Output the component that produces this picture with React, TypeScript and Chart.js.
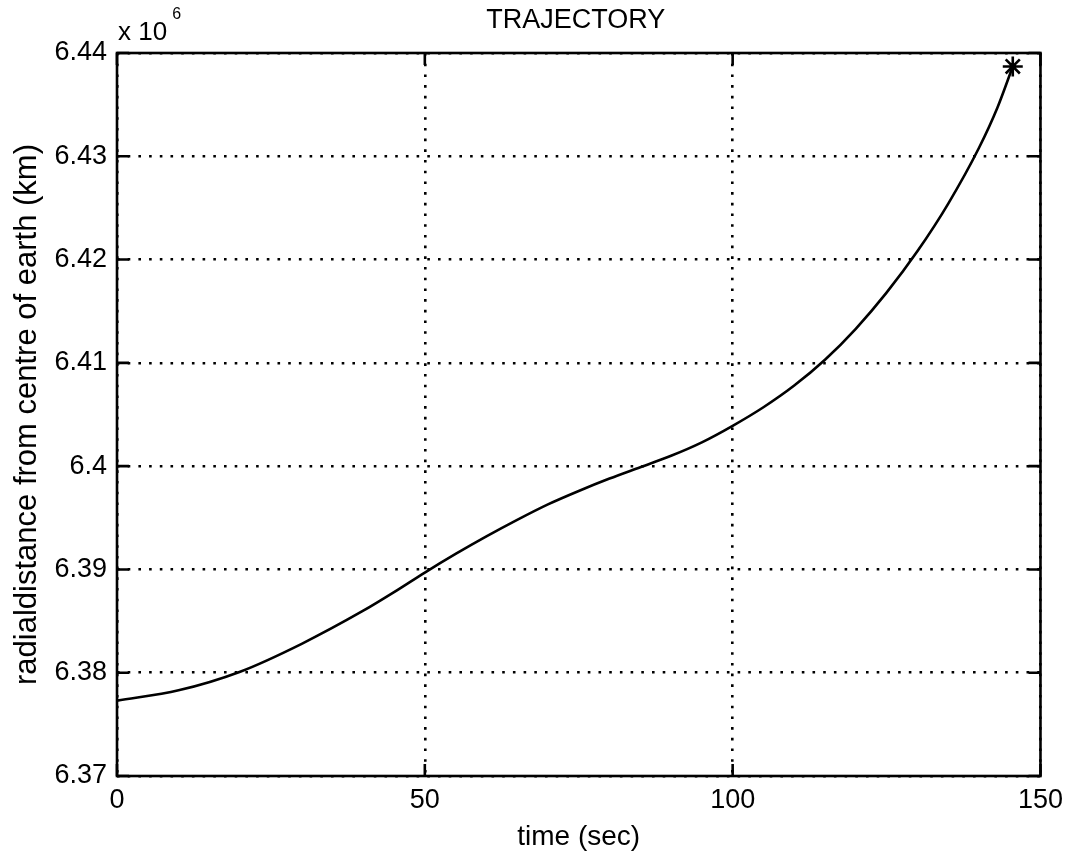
import React, { useEffect, useRef } from "react";
import { Chart, registerables } from "chart.js";

Chart.register(...registerables);

// time (sec)
const timeSec = [0, 10, 20, 30, 40, 45, 50, 55, 60, 65, 70, 75, 80, 85, 90, 95, 100, 105, 110, 115, 120, 125, 130, 135, 140, 143, 145.5];
// radial distance from centre of earth, in units of 10^6
const radialDistance = [6.3773, 6.3783, 6.3801, 6.3828, 6.386, 6.3878, 6.3897, 6.3915, 6.3932, 6.3948, 6.3963, 6.3976, 6.3988, 6.3999, 6.401, 6.4023, 6.4039, 6.4057, 6.4078, 6.4103, 6.4133, 6.4168, 6.4208, 6.4254, 6.4308, 6.4347, 6.4387];
// final point marker
const finalTime = [145.5];
const finalDistance = [6.4387];

const xTickValues = [0, 50, 100, 150];
const xTickLabels = ["0", "50", "100", "150"];
const yTickValues = [6.37, 6.38, 6.39, 6.4, 6.41, 6.42, 6.43, 6.44];
const yTickLabels = ["6.37", "6.38", "6.39", "6.4", "6.41", "6.42", "6.43", "6.44"];

const titleText = "TRAJECTORY";
const xLabel = "time (sec)";
const yLabel = "radialdistance from centre of earth (km)";
const exponentBase = "x 10";
const exponentPower = "6";

const FONT = '"Liberation Sans", Arial, Helvetica, sans-serif';

const matlabFrame = {
  id: "matlabFrame",
  afterDraw(chart: any) {
    const { ctx, chartArea, scales } = chart;
    const { left, right, top, bottom } = chartArea;
    const xs = scales.x;
    const ys = scales.y;
    ctx.save();
    ctx.strokeStyle = "#000";
    ctx.lineWidth = 2.6;
    ctx.strokeRect(left, top, right - left, bottom - top);
    const tl = 12;
    ctx.beginPath();
    xs.ticks.forEach((t: any) => {
      const px = xs.getPixelForValue(t.value);
      ctx.moveTo(px, bottom);
      ctx.lineTo(px, bottom - tl);
      ctx.moveTo(px, top);
      ctx.lineTo(px, top + tl);
    });
    ys.ticks.forEach((t: any) => {
      const py = ys.getPixelForValue(t.value);
      ctx.moveTo(left, py);
      ctx.lineTo(left + tl, py);
      ctx.moveTo(right, py);
      ctx.lineTo(right - tl, py);
    });
    ctx.stroke();

    ctx.fillStyle = "#000";
    ctx.font = `27px ${FONT}`;
    ctx.textAlign = "center";
    ctx.textBaseline = "middle";
    ctx.fillText(titleText, (left + right) / 2 - 3, top - 32);

    ctx.textAlign = "left";
    ctx.textBaseline = "alphabetic";
    ctx.font = `26px ${FONT}`;
    ctx.fillText(exponentBase, left + 1, top - 13);
    const w = ctx.measureText(exponentBase).width;
    ctx.font = `16px ${FONT}`;
    ctx.fillText(exponentPower, left + 1 + w + 5, top - 34);
    ctx.restore();
  },
};

export default function App() {
  const canvasRef = useRef<HTMLCanvasElement | null>(null);

  useEffect(() => {
    if (!canvasRef.current) return;
    const chart = new Chart(canvasRef.current, {
      type: "scatter",
      data: {
        datasets: [
          {
            data: timeSec.map((t, i) => ({ x: t, y: radialDistance[i] })),
            showLine: true,
            borderColor: "#000",
            borderWidth: 2.6,
            pointRadius: 0,
            cubicInterpolationMode: "monotone",
          },
          {
            data: finalTime.map((t, i) => ({ x: t, y: finalDistance[i] })),
            showLine: false,
            pointStyle: "star",
            pointRadius: 10,
            borderColor: "#000",
            backgroundColor: "#000",
            pointBorderWidth: 2.6,
          },
        ],
      },
      options: {
        animation: false,
        responsive: false,
        layout: { padding: { top: 53, right: 25, left: 0, bottom: 0 } },
        plugins: {
          legend: { display: false },
          tooltip: { enabled: false },
        },
        scales: {
          x: {
            type: "linear",
            min: 0,
            max: 150,
            afterBuildTicks: (s: any) => {
              s.ticks = xTickValues.map((v) => ({ value: v }));
            },
            afterFit: (s: any) => {
              s.height = 75;
            },
            ticks: {
              color: "#000",
              padding: 8,
              maxRotation: 0,
              font: { family: FONT, size: 27, lineHeight: 1.2 },
              callback: (_v: any, i: number) => xTickLabels[i],
            },
            grid: { color: "#000", lineWidth: 2.6, drawTicks: false },
            border: { display: false, dash: [2.6, 8.1] },
            title: {
              display: true,
              text: xLabel,
              color: "#000",
              font: { family: FONT, size: 28, lineHeight: 1 },
              padding: { top: 0, bottom: 0 },
            },
          },
          y: {
            type: "linear",
            min: 6.37,
            max: 6.44,
            afterBuildTicks: (s: any) => {
              s.ticks = yTickValues.map((v) => ({ value: v }));
            },
            afterFit: (s: any) => {
              s.width = 117;
            },
            ticks: {
              color: "#000",
              padding: 10,
              font: { family: FONT, size: 27, lineHeight: 1.2 },
              callback: (_v: any, i: number) => yTickLabels[i],
            },
            grid: { color: "#000", lineWidth: 2.6, drawTicks: false },
            border: { display: false, dash: [2.6, 8.1] },
            title: {
              display: true,
              text: yLabel,
              color: "#000",
              font: { family: FONT, size: 31, lineHeight: 1 },
              padding: { top: 12, bottom: 0 },
            },
          },
        },
      },
      plugins: [matlabFrame],
    } as any);
    return () => chart.destroy();
  }, []);

  return (
    <div style={{ position: "absolute", left: 0, top: 0, width: 1071, height: 851, background: "#fff" }}>
      <canvas ref={canvasRef} width={1071} height={851} style={{ display: "block" }} />
    </div>
  );
}
